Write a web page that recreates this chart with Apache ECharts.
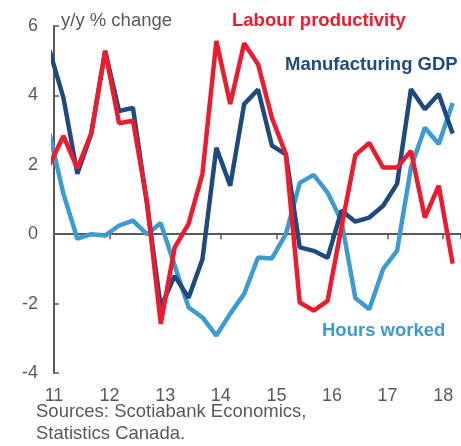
<!DOCTYPE html>
<html>
<head>
<meta charset="utf-8">
<script src="https://cdn.jsdelivr.net/npm/echarts@6/dist/echarts.min.js"></script>
<style>
  html, body { margin: 0; padding: 0; background: #fff; }
  #chart { width: 461px; height: 446px; }
</style>
</head>
<body>
<div id="chart"></div>
<script>
// quarterly y/y % change, 2011Q1 .. 2018Q2
const quarters = [
  '11Q1', '11Q2', '11Q3', '11Q4', '12Q1', '12Q2', '12Q3', '12Q4',
  '13Q1', '13Q2', '13Q3', '13Q4', '14Q1', '14Q2', '14Q3', '14Q4',
  '15Q1', '15Q2', '15Q3', '15Q4', '16Q1', '16Q2', '16Q3', '16Q4',
  '17Q1', '17Q2', '17Q3', '17Q4', '18Q1', '18Q2',
];
const labourProductivity = [
  2.0, 2.83, 1.9, 2.9, 5.28, 3.2, 3.27, 0.97,
  -2.58, -0.39, 0.3, 1.74, 5.57, 3.75, 5.5, 4.9,
  3.35, 2.31, -1.97, -2.2, -1.92, 0.2, 2.28, 2.63,
  1.92, 1.92, 2.4, 0.48, 1.4, -0.85,
];
const manufacturingGdp = [
  5.3, 3.93, 1.74, 2.9, 5.28, 3.55, 3.64, 0.9,
  -2.1, -1.2, -1.83, -0.72, 2.49, 1.4, 3.75, 4.17,
  2.55, 2.3, -0.38, -0.48, -0.68, 0.68, 0.36, 0.48,
  0.82, 1.45, 4.18, 3.6, 4.04, 2.9,
];
const hoursWorked = [
  2.9, 1.16, -0.13, 0.0, -0.04, 0.25, 0.39, 0.0,
  0.32, -0.9, -2.11, -2.4, -2.92, -2.29, -1.72, -0.67,
  -0.7, 0.0, 1.48, 1.71, 1.2, 0.39, -1.84, -2.16,
  -1.0, -0.48, 1.92, 3.07, 2.6, 3.78,
];
const yearTicks = [11, 12, 13, 14, 15, 16, 17, 18];

// points sit a little before the quarter start on the source's date axis
const xShift = -0.08;
function toX(q) {
  return Number(q.slice(0, 2)) + (Number(q.slice(3)) - 1) / 4 + xShift;
}
function pairs(vals) {
  return quarters.map((q, i) => [toX(q), vals[i]]);
}

const grey = '#595959';
const font = '"Liberation Sans", Arial, sans-serif';
const red = '#EC1B2E';
const navy = '#1F4A7D';
const sky = '#3D9BD1';

const myChart = echarts.init(document.getElementById('chart'));
const options = {
  animation: false,
  grid: { left: 54, right: 0, top: 26, bottom: 73 },
  xAxis: [
    {
      type: 'value',
      min: 11,
      max: 18.32,
      interval: 1,
      axisLine: { onZero: true, lineStyle: { color: grey, width: 2 } },
      axisTick: { show: true, length: 5, lineStyle: { color: grey, width: 1.5 } },
      axisLabel: { show: false },
      splitLine: { show: false },
    },
    {
      type: 'value',
      min: 11,
      max: 18.32,
      interval: 1,
      position: 'bottom',
      axisLine: { show: false, onZero: false },
      axisTick: { show: false },
      axisLabel: {
        color: grey,
        fontSize: 18,
        fontFamily: font,
        margin: 14,
        customValues: yearTicks,
        formatter: (v) => String(v),
      },
      splitLine: { show: false },
    },
  ],
  yAxis: {
    type: 'value',
    min: -4,
    max: 6,
    interval: 2,
    axisLine: { show: true, onZero: false, lineStyle: { color: grey, width: 2 } },
    axisTick: { show: true, inside: true, length: 5, lineStyle: { color: grey, width: 1.5 } },
    axisLabel: { color: grey, fontSize: 18, fontFamily: font, margin: 16 },
    splitLine: { show: false },
  },
  series: [
    {
      name: 'Hours worked',
      type: 'line',
      data: pairs(hoursWorked),
      showSymbol: false,
      clip: true,
      lineStyle: { color: sky, width: 4.5 },
      z: 2,
    },
    {
      name: 'Manufacturing GDP',
      type: 'line',
      data: pairs(manufacturingGdp),
      showSymbol: false,
      clip: true,
      lineStyle: { color: navy, width: 4.5 },
      z: 3,
    },
    {
      name: 'Labour productivity',
      type: 'line',
      data: pairs(labourProductivity),
      showSymbol: false,
      clip: true,
      lineStyle: { color: red, width: 4.5 },
      z: 4,
    },
  ],
  graphic: [
    { type: 'text', left: 61, top: 11, style: { text: 'y/y % change', fill: grey, font: '18.5px ' + font } },
    { type: 'text', left: 232, top: 11, style: { text: 'Labour productivity', fill: red, font: 'bold 18.5px ' + font } },
    { type: 'text', left: 285, top: 55, style: { text: 'Manufacturing GDP', fill: navy, font: 'bold 18.5px ' + font } },
    { type: 'text', left: 322, top: 321, style: { text: 'Hours worked', fill: sky, font: 'bold 18.5px ' + font } },
    { type: 'text', left: 36, top: 402, style: { text: 'Sources: Scotiabank Economics,', fill: grey, font: '18.5px ' + font } },
    { type: 'text', left: 36, top: 424, style: { text: 'Statistics Canada.', fill: grey, font: '18.5px ' + font } },
  ],
};
myChart.setOption(options);
</script>
</body>
</html>
